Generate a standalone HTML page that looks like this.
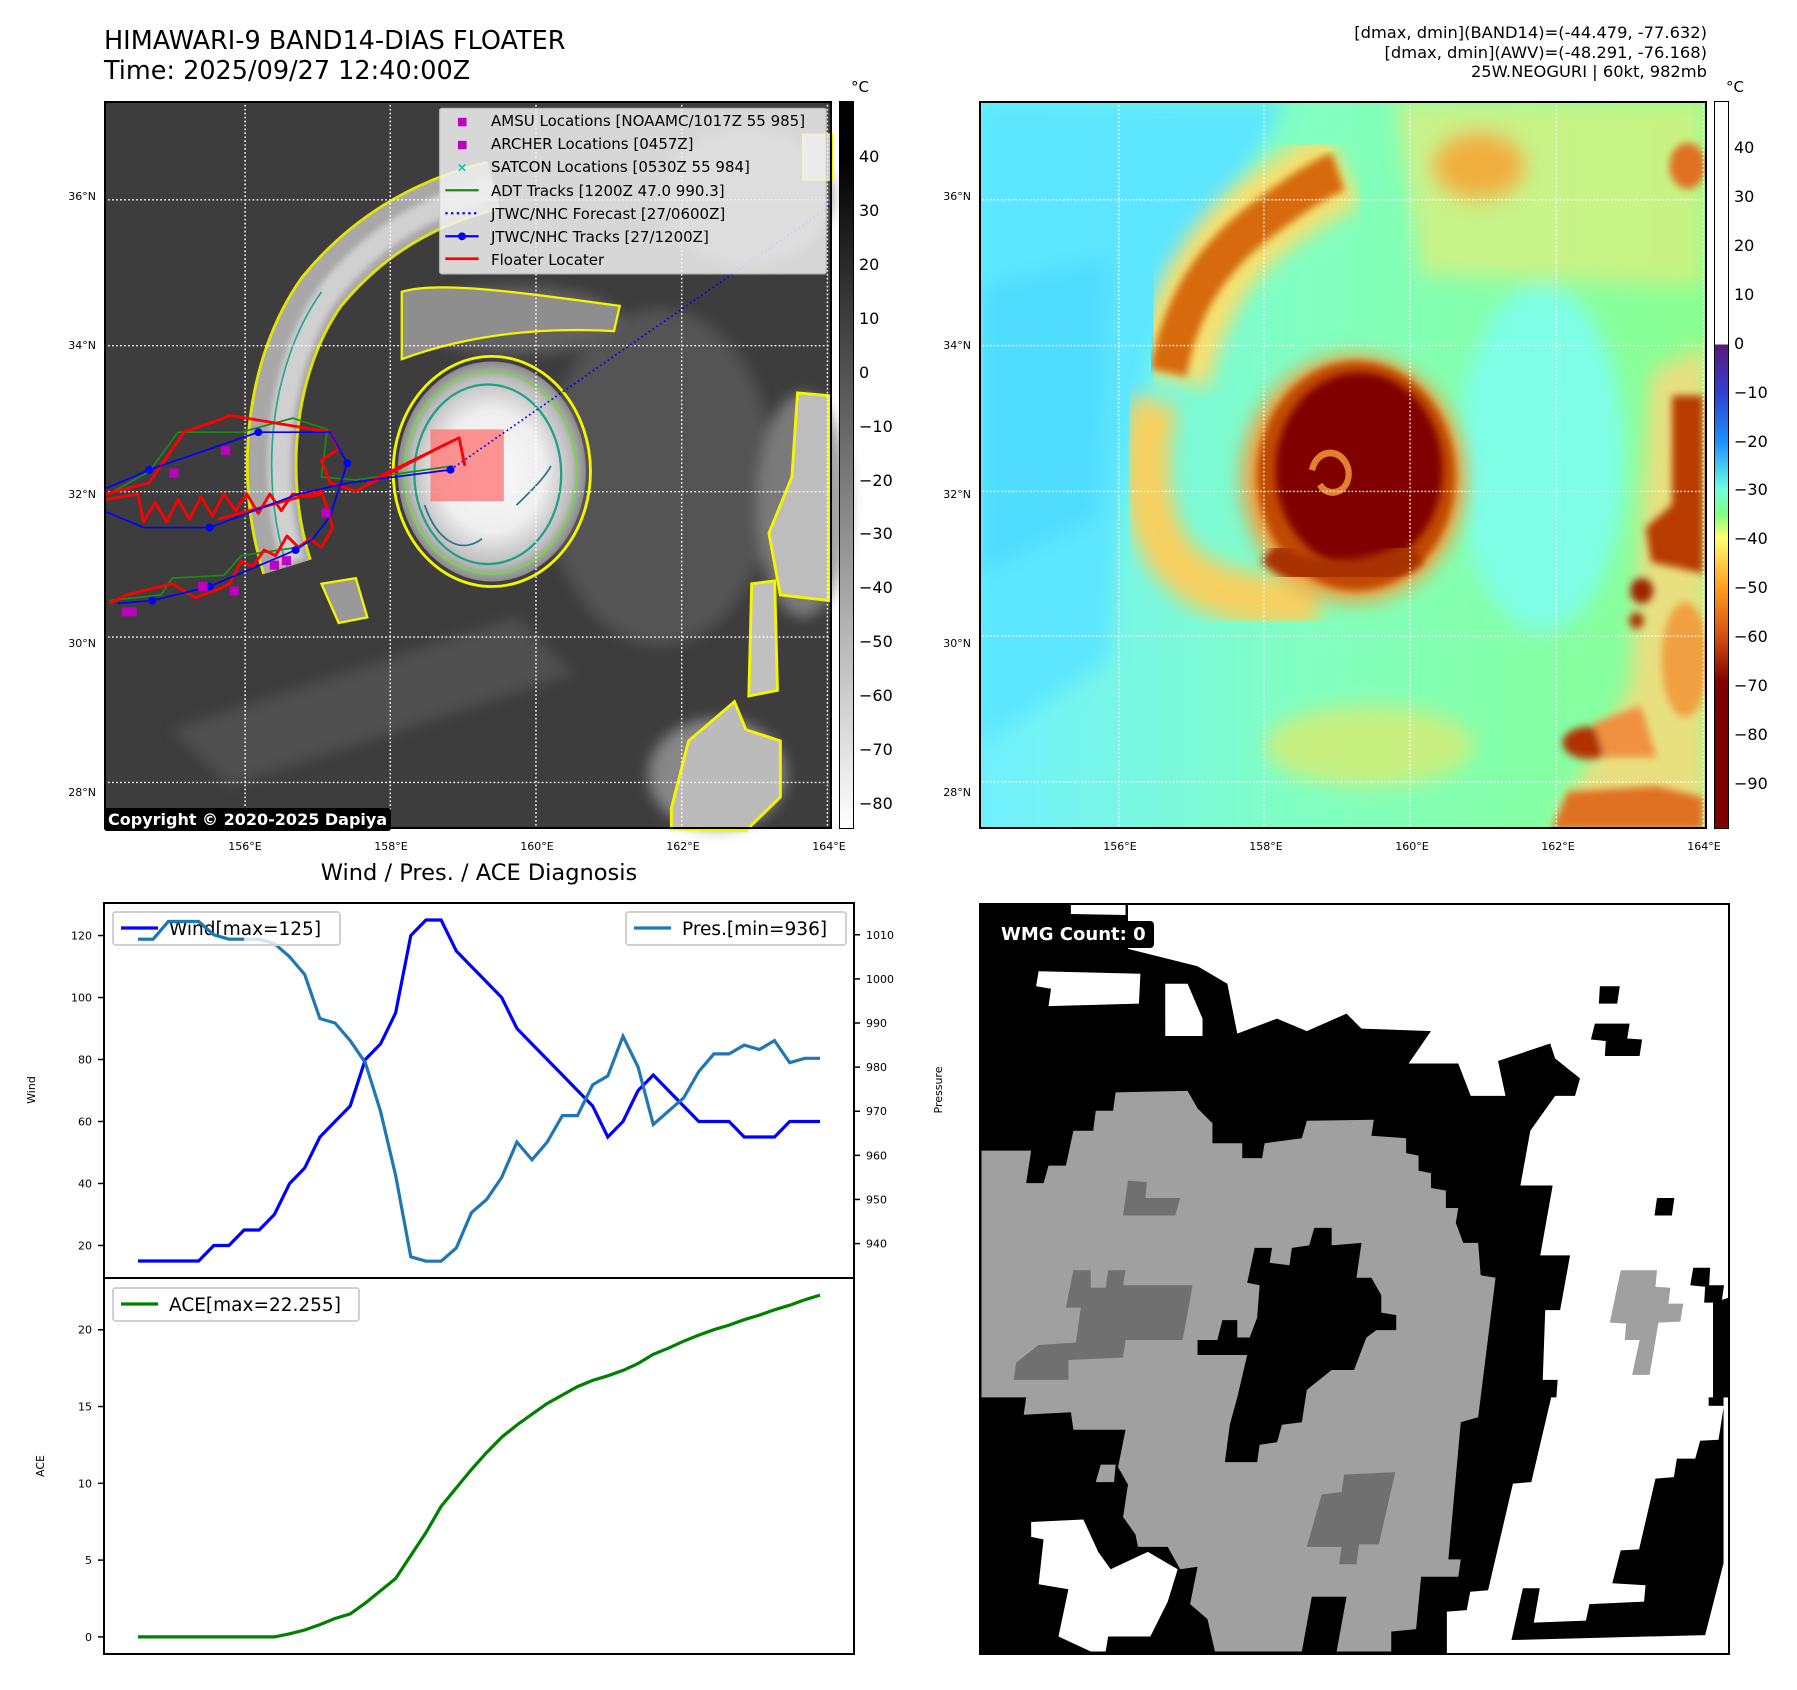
<!DOCTYPE html>
<html><head><meta charset="utf-8">
<style>
html,body{margin:0;padding:0;background:#fff;}
body{width:1797px;height:1690px;position:relative;overflow:hidden;font-family:"DejaVu Sans","Liberation Sans",sans-serif;color:#000;}
.abs{position:absolute;}
.t{position:absolute;white-space:nowrap;}
svg{position:absolute;overflow:visible;}
</style></head><body>

<div class="t" style="left:104px;top:26px;font-size:25.5px;line-height:30px;">HIMAWARI-9 BAND14-DIAS FLOATER<br>Time: 2025/09/27 12:40:00Z</div>
<div class="t" style="right:90px;top:23px;font-size:16.3px;line-height:19.5px;text-align:right;">[dmax, dmin](BAND14)=(-44.479, -77.632)<br>[dmax, dmin](AWV)=(-48.291, -76.168)<br>25W.NEOGURI | 60kt, 982mb</div>

<!-- MAP 1 -->
<svg style="left:104px;top:101px" width="728" height="728" viewBox="181 180 1269 1297" preserveAspectRatio="none">
<defs>
<radialGradient id="core1" cx="0.5" cy="0.5" r="0.5"><stop offset="0" stop-color="#fafafa"/><stop offset="0.55" stop-color="#eeeeee"/><stop offset="0.85" stop-color="#bdbdbd"/><stop offset="1" stop-color="#8a8a8a"/></radialGradient>
<filter id="bl1"><feGaussianBlur stdDeviation="12"/></filter>
<filter id="bl2"><feGaussianBlur stdDeviation="5"/></filter>
</defs>
<rect x="181" y="180" width="1269" height="1297" fill="#3d3d3d"/>
<g filter="url(#bl1)" opacity="0.8">
<ellipse cx="1150" cy="850" rx="200" ry="300" fill="#5a5a5a"/>
<ellipse cx="1400" cy="900" rx="80" ry="200" fill="#8a8a8a"/>
<ellipse cx="1250" cy="1380" rx="120" ry="100" fill="#9a9a9a"/>
<ellipse cx="900" cy="570" rx="180" ry="60" fill="#6a6a6a"/>
<ellipse cx="1300" cy="350" rx="150" ry="120" fill="#777"/>
<path d="M300 1300 L900 1100 L1000 1200 L400 1400Z" fill="#555"/>
</g>
<path d="M500 1010 C450 850 470 650 560 520 C640 420 740 360 860 330" stroke="#f5f500" stroke-width="90" fill="none" opacity="0.9"/>
<path d="M500 1010 C450 850 470 650 560 520 C640 420 740 360 860 330" stroke="#a8a8a8" stroke-width="80" fill="none"/>
<path d="M510 1000 C465 850 485 650 570 525 C645 425 745 365 860 335" stroke="#d0d0d0" stroke-width="40" fill="none" filter="url(#bl2)"/>
<path d="M500 1010 C450 850 470 650 560 520" stroke="#2aa890" stroke-width="3" fill="none"/>
<ellipse cx="857" cy="840" rx="172" ry="205" fill="none" stroke="#f5f500" stroke-width="5"/>
<ellipse cx="857" cy="840" rx="164" ry="196" fill="url(#core1)"/>
<ellipse cx="855" cy="842" rx="150" ry="180" fill="none" stroke="#7ccf55" stroke-width="4"/>
<ellipse cx="850" cy="845" rx="128" ry="160" fill="none" stroke="#22a085" stroke-width="4"/>
<path d="M740 900 C760 960 800 990 840 960 M900 900 C930 870 950 850 960 830" stroke="#2b6f8e" stroke-width="3" fill="none"/>
<path d="M1390 700 L1445 705 L1445 1070 L1360 1060 L1340 950 L1380 850Z" fill="#bdbdbd" stroke="#f5f500" stroke-width="5"/>
<path d="M1310 1040 L1350 1035 L1355 1230 L1305 1240Z" fill="#c0c0c0" stroke="#f5f500" stroke-width="5"/>
<path d="M1170 1440 L1200 1320 L1280 1250 L1300 1300 L1360 1320 L1360 1420 L1300 1480 L1170 1477Z" fill="#bbbbbb" stroke="#f5f500" stroke-width="5"/>
<path d="M1400 240 L1450 240 L1450 320 L1400 320Z" fill="#c5c5c5" stroke="#f5f500" stroke-width="4"/>
<path d="M700 520 C760 500 900 520 1080 545 L1070 590 C900 580 780 610 700 640Z" fill="#8e8e8e" stroke="#f5f500" stroke-width="4"/>
<path d="M560 1040 L620 1030 L640 1100 L590 1110Z" fill="#999" stroke="#f5f500" stroke-width="4"/>
<g stroke="#fff" stroke-width="2.5" stroke-dasharray="3,4">
<line x1="427" y1="180" x2="427" y2="1477"/><line x1="680" y1="180" x2="680" y2="1477"/><line x1="934" y1="180" x2="934" y2="1477"/><line x1="1188" y1="180" x2="1188" y2="1477"/><line x1="1442" y1="180" x2="1442" y2="1477"/>
<line x1="181" y1="356" x2="1450" y2="356"/><line x1="181" y1="616" x2="1450" y2="616"/><line x1="181" y1="876" x2="1450" y2="876"/><line x1="181" y1="1135" x2="1450" y2="1135"/><line x1="181" y1="1394" x2="1450" y2="1394"/>
</g>
<rect x="750" y="765" width="128" height="128" fill="#ff7070" opacity="0.75"/>
<polyline points="785,837 1450,365" stroke="#0000ff" stroke-width="3" stroke-dasharray="3,5" fill="none"/>
<g stroke="#1a8a1a" stroke-width="3" fill="none">
<polyline points="190,880 260,840 310,770 420,770 510,745 570,765 560,850 620,855 790,830"/>
<polyline points="190,1070 280,1060 300,1030 390,1025 420,990 520,975"/>
</g>
<g stroke="#ff0000" stroke-width="5" fill="none" stroke-linejoin="round">
<polyline points="185,880 260,860 320,770 390,745 400,740 575,770 590,800 560,820 575,860 620,875 760,800 800,780 810,830"/>
<polyline points="185,890 240,880 250,930 270,895 290,930 310,890 330,925 350,885 370,920 390,880 410,910 430,880 450,915 470,880 490,910 510,880 540,885 560,880"/>
<polyline points="380,925 560,875 580,940 560,975 540,960 520,975 500,955 480,990 460,980 440,1010 420,1000 400,1040 380,1050 340,1065 300,1040 260,1050 220,1060 190,1075"/>
<polyline points="640,860 660,850 680,840 700,830 720,820 740,810 760,800 780,790"/>
</g>
<g stroke="#0000ff" stroke-width="3" fill="none">
<polyline points="185,912 250,940 365,940 520,880 610,860 785,837"/>
<polyline points="205,1075 265,1070 365,1045 515,980 545,960 575,920 605,825 575,770 450,770 260,837 185,870"/>
</g>
<g fill="#0000ff"><circle cx="365" cy="940" r="7"/><circle cx="785" cy="837" r="7"/><circle cx="265" cy="1070" r="7"/><circle cx="365" cy="1045" r="7"/><circle cx="515" cy="980" r="7"/><circle cx="605" cy="825" r="7"/><circle cx="450" cy="770" r="7"/><circle cx="260" cy="837" r="7"/></g>
<g fill="#c000c0"><rect x="385" y="795" width="16" height="16"/><rect x="295" y="835" width="16" height="16"/><rect x="560" y="906" width="16" height="16"/><rect x="470" y="999" width="16" height="16"/><rect x="491" y="991" width="16" height="16"/><rect x="212" y="1082" width="26" height="16"/><rect x="345" y="1037" width="16" height="16"/><rect x="400" y="1045" width="16" height="16"/></g>
<rect x="766" y="193" width="674" height="295" fill="#f2f2f2" opacity="0.85" stroke="#ccc" stroke-width="2" rx="4"/>
<rect x="798" y="210" width="15" height="15" fill="#c000c0"/>
<rect x="798" y="251" width="15" height="15" fill="#c000c0"/>
<text x="796" y="306" fill="#00bcbc" font-size="22" font-weight="bold">×</text>
<line x1="776" y1="339" x2="834" y2="339" stroke="#1a8a1a" stroke-width="4"/>
<line x1="776" y1="380" x2="834" y2="380" stroke="#0000ff" stroke-width="4" stroke-dasharray="4,6"/>
<line x1="776" y1="421" x2="834" y2="421" stroke="#0000ff" stroke-width="4"/><circle cx="805" cy="421" r="7" fill="#0000ff"/>
<line x1="776" y1="461" x2="834" y2="461" stroke="#ff0000" stroke-width="5"/>
</svg>
<div class="abs" style="left:491px;top:110px;font-size:15px;line-height:23.2px;">
<div>AMSU Locations [NOAAMC/1017Z 55 985]</div>
<div>ARCHER Locations [0457Z]</div>
<div>SATCON Locations [0530Z 55 984]</div>
<div>ADT Tracks [1200Z 47.0 990.3]</div>
<div>JTWC/NHC Forecast [27/0600Z]</div>
<div>JTWC/NHC Tracks [27/1200Z]</div>
<div>Floater Locater</div>
</div>
<div class="abs" style="left:104px;top:101px;width:724px;height:724px;border:2px solid #000;"></div>
<div class="t" style="left:104px;top:808px;background:#000;color:#fff;font-weight:bold;font-size:16px;padding:2px 4px;border-radius:3px;">Copyright © 2020-2025 Dapiya</div>

<div class="abs" style="left:839px;top:101px;width:13px;height:726px;border:1px solid #000;background:linear-gradient(#000 0%,#000 7.5%,#fff 100%);"></div>
<div class="t" style="left:851px;top:78px;font-size:15px;">°C</div>

<!-- MAP 2 -->
<svg style="left:979px;top:101px" width="728" height="728" viewBox="2 177 1395 1268" preserveAspectRatio="none">
<defs>
<filter id="b2"><feGaussianBlur stdDeviation="18"/></filter>
<filter id="b3"><feGaussianBlur stdDeviation="7"/></filter>
<linearGradient id="bg2" x1="0" x2="1" y1="0" y2="0"><stop offset="0" stop-color="#70f0ff"/><stop offset="0.45" stop-color="#80ffc0"/><stop offset="1" stop-color="#88ff90"/></linearGradient>
<clipPath id="c2"><rect x="2" y="177" width="1395" height="1268"/></clipPath>
</defs>
<g clip-path="url(#c2)">
<rect x="2" y="177" width="1395" height="1268" fill="url(#bg2)"/>
<g filter="url(#b2)">
<path d="M2 177 L590 177 L420 450 L330 620 L270 900 L250 1150 L2 1300Z" fill="#5ce6ff"/>
<path d="M2 500 L250 450 L230 900 L2 1000Z" fill="#50dcff"/>
<ellipse cx="1080" cy="800" rx="160" ry="300" fill="#7fffe6"/>
<path d="M800 177 L1390 177 L1390 500 L850 480Z" fill="#d8f080" opacity="0.8"/>
<ellipse cx="960" cy="290" rx="90" ry="60" fill="#f0b040"/>
<ellipse cx="750" cy="1300" rx="200" ry="70" fill="#c8f080"/>
<path d="M1290 650 L1397 600 L1397 1445 L1100 1445 L1250 1200Z" fill="#e8e080"/>
</g>
<path d="M370 660 C400 520 470 430 560 370 C620 330 660 310 700 290" stroke="#f6e070" stroke-width="150" fill="none" filter="url(#b2)"/>
<path d="M365 650 C390 520 460 440 550 380 C610 340 650 315 690 300" stroke="#d66a10" stroke-width="70" fill="none" filter="url(#b3)"/>
<path d="M340 700 C310 800 320 920 380 980 C440 1040 560 1060 650 1040" stroke="#f6d060" stroke-width="90" fill="none" filter="url(#b2)"/>
<ellipse cx="720" cy="835" rx="215" ry="215" fill="#f0a040" filter="url(#b2)"/>
<ellipse cx="725" cy="830" rx="190" ry="200" fill="#c04a00" filter="url(#b3)"/>
<ellipse cx="730" cy="820" rx="160" ry="170" fill="#800000" filter="url(#b3)"/>
<path d="M560 960 C620 1020 760 1010 840 960" stroke="#a83000" stroke-width="50" fill="none" filter="url(#b3)"/>
<path d="M640 820 C650 780 700 780 710 820 C715 860 670 870 655 845" stroke="#e08030" stroke-width="12" fill="none"/>
<g filter="url(#b3)">
<path d="M1330 690 L1390 690 L1390 1000 L1290 980 L1280 920 L1330 880Z" fill="#b83a00"/>
<circle cx="1272" cy="1030" r="22" fill="#a02000"/>
<circle cx="1262" cy="1082" r="14" fill="#b03000"/>
<ellipse cx="1170" cy="1295" rx="50" ry="28" fill="#b03000"/>
<path d="M1180 1260 L1270 1230 L1300 1320 L1200 1320Z" fill="#f09040"/>
<path d="M1100 1445 L1130 1380 L1300 1370 L1390 1390 L1390 1445Z" fill="#e07020"/>
<ellipse cx="1360" cy="290" rx="35" ry="40" fill="#e07020"/>
<ellipse cx="1355" cy="1150" rx="45" ry="100" fill="#f0a040"/>
</g>
<g stroke="#fff" stroke-width="2.5" stroke-dasharray="3,4">
<line x1="270" y1="177" x2="270" y2="1445"/><line x1="548" y1="177" x2="548" y2="1445"/><line x1="828" y1="177" x2="828" y2="1445"/><line x1="1108" y1="177" x2="1108" y2="1445"/><line x1="1390" y1="177" x2="1390" y2="1445"/>
<line x1="2" y1="349" x2="1397" y2="349"/><line x1="2" y1="603" x2="1397" y2="603"/><line x1="2" y1="857" x2="1397" y2="857"/><line x1="2" y1="1109" x2="1397" y2="1109"/><line x1="2" y1="1363" x2="1397" y2="1363"/>
</g>
</g>
</svg>
<div class="abs" style="left:979px;top:101px;width:724px;height:724px;border:2px solid #000;"></div>
<div class="abs" style="left:1714px;top:101px;width:13px;height:726px;border:1px solid #000;background:linear-gradient(#fff 0%,#fff 33.4%,#5a1a7a 33.4%,#3040d0 40%,#1a90ff 46.7%,#70ffe0 53.4%,#80ff80 56.8%,#ffff70 60%,#ffa020 66.7%,#d85010 73.4%,#800000 80%,#800000 100%);"></div>
<div class="t" style="left:1726px;top:78px;font-size:15px;">°C</div>
<div id="maplabels"></div>

<div class="t" style="left:479px;top:860px;transform:translateX(-50%);font-size:22.5px;">Wind / Pres. / ACE Diagnosis</div>
<svg id="chart" style="left:0;top:0" width="1797" height="1690"></svg>

<!-- WMG panel -->
<svg style="left:979px;top:903px" width="750" height="751" viewBox="0 8 1510 1507" preserveAspectRatio="none">
<rect x="0" y="8" width="1510" height="1507" fill="#000"/>
<polygon fill="#fff" points="300,8 1510,8 1510,800 1478,810 1478,1020 1505,1035 1500,1090 1440,1140 1365,1170 1350,1315 1300,1315 1290,1385 1240,1390 1230,1420 1125,1455 1130,1390 1080,1390 1115,1175 1150,1175 1165,965 1135,965 1140,825 1170,825 1190,715 1130,715 1155,575 1090,575 1110,465 1160,395 1200,395 1210,360 1160,320 1150,290 1045,325 1060,395 990,395 965,330 865,330 910,265 770,260 740,230 660,265 600,240 520,270 500,170 440,135 300,100"/>
<polygon fill="#fff" points="1152,1000 1112,1170 1075,1173 1025,1387 989,1390 982,1427 942,1430 942,1515 1510,1515 1510,1000"/>
<polygon fill="#000" points="1072,1487 1095,1383 1129,1383 1117,1452 1222,1448 1229,1415 1339,1410 1342,1377 1275,1373 1292,1307 1329,1305 1362,1163 1399,1160 1405,1123 1442,1123 1452,1087 1489,1085 1499,1020 1499,1333 1462,1477"/>
<polygon fill="#000" points="1469,1000 1499,1000 1499,1017 1469,1017"/>
<polygon fill="#000" points="1250,175 1290,175 1285,210 1248,210"/>
<polygon fill="#000" points="1240,250 1310,250 1305,280 1335,282 1330,315 1260,315 1262,285 1232,282"/>
<polygon fill="#000" points="1365,600 1400,600 1395,635 1360,635"/>
<polygon fill="#000" points="1438,740 1472,740 1470,775 1500,775 1495,810 1460,810 1462,778 1432,775"/>
<polygon fill="#000" points="1478,810 1510,810 1510,1000 1478,1000"/>
<polygon fill="#a0a0a0" points="1292,745 1365,745 1362,778 1392,780 1388,812 1418,812 1412,848 1368,850 1350,955 1315,955 1330,885 1300,885 1303,852 1270,850"/>
<polygon fill="#fff" points="120,145 325,150 322,210 140,215 145,180 115,175"/>
<polygon fill="#fff" points="185,12 295,12 295,32 185,30"/>
<polygon fill="#fff" points="375,170 420,170 450,240 450,275 375,275"/>
<polygon fill="#fff" points="105,1250 210,1245 240,1310 265,1345 340,1310 400,1345 380,1410 345,1480 260,1480 255,1510 225,1510 160,1480 180,1385 120,1375 130,1285 105,1280"/>
<polygon fill="#a0a0a0" points="5,505 105,505 95,570 130,570 140,535 175,535 190,465 230,465 235,425 270,425 275,388 420,385 440,420 470,450 470,490 530,490 530,520 570,520 575,490 650,480 660,445 795,443 790,475 860,480 860,510 885,515 885,545 910,550 910,580 940,585 940,620 965,620 960,650 975,690 1005,690 1010,755 1040,760 1005,1040 970,1050 945,1325 970,1325 965,1360 890,1360 880,1465 830,1470 830,1510 720,1510 740,1400 670,1400 650,1510 475,1510 460,1445 425,1415 440,1340 405,1345 380,1300 320,1300 315,1275 290,1240 300,1175 280,1140 295,1065 190,1065 185,1030 90,1035 95,1000 5,1000"/>
<polygon fill="#000" points="555,700 590,700 585,730 625,735 630,700 665,695 675,660 710,660 710,695 770,690 760,760 790,760 810,795 810,830 840,835 840,865 800,865 780,880 755,945 710,945 660,985 650,1050 610,1055 600,1090 565,1095 560,1130 495,1130 505,1055 520,1000 540,915 440,915 440,885 480,885 490,845 520,845 520,880 545,880 560,840 565,775 540,770"/>
<polygon fill="#707070" points="300,565 338,568 335,600 405,600 395,635 290,635"/>
<polygon fill="#707070" points="190,745 225,745 225,780 255,780 260,745 295,745 290,775 430,775 410,885 295,885 290,920 180,925 180,965 70,965 75,930 120,895 195,890 205,820 175,820"/>
<polygon fill="#707070" points="735,1155 838,1150 805,1295 765,1295 760,1335 725,1335 730,1300 660,1300 690,1195 730,1190"/>
<polygon fill="#a0a0a0" points="245,1135 275,1135 272,1170 235,1170"/>
</svg>
<div class="abs" style="left:979px;top:903px;width:751px;height:752px;border:2px solid #000;box-sizing:border-box;"></div>
<div class="t" style="left:993px;top:921px;background:#000;color:#fff;font-weight:bold;font-size:18px;padding:3px 8px;border-radius:4px;">WMG Count: 0</div>

<script>
const windValues = [15,15,15,15,15,20,20,25,25,30,40,45,55,60,65,80,85,95,120,125,125,115,110,105,100,90,85,80,75,70,65,55,60,70,75,70,65,60,60,60,55,55,55,60,60,60];
const presValues = [1009,1009,1013,1013,1013,1010,1009,1009,1009,1008,1005,1001,991,990,986,981,970,955.5,937,936,936,939,947,950,955,963,959,963,969,969,976,978,987,980,967,970,973,979,983,983,985,984,986,981,982,982];
const aceValues = [0,0,0,0,0,0,0,0,0,0,0.2,0.45,0.8,1.2,1.5,2.2,3.0,3.8,5.3,6.8,8.5,9.7,10.9,12.0,13.0,13.8,14.5,15.2,15.75,16.3,16.7,17.0,17.35,17.8,18.4,18.8,19.25,19.65,20.0,20.3,20.65,20.95,21.3,21.6,21.95,22.255];
const windTicks = [20,40,60,80,100,120];
const presTicks = [940,950,960,970,980,990,1000,1010];
const aceTicks = [0,5,10,15,20];
const lonTicks = ["156°E","158°E","160°E","162°E","164°E"];
const latTicks = ["28°N","30°N","32°N","34°N","36°N"];
const cb1Ticks = [40,30,20,10,0,-10,-20,-30,-40,-50,-60,-70,-80];
const cb2Ticks = [40,30,20,10,0,-10,-20,-30,-40,-50,-60,-70,-80,-90];

const NS='http://www.w3.org/2000/svg';
const svg=document.getElementById('chart');
const X0=104,X1=854,T1=903,M=1278,B=1654;
const n=windValues.length;
function xS(i){return 138+(820-138)*i/(n-1);}
function yWind(v){return M-(v-9.5)/(130.5-9.5)*(M-T1);}
function yPres(v){return M-(v-932.2)/(1017.2-932.2)*(M-T1);}
function yAce(v){return B-(v+1.113)/(23.368+1.113)*(B-M);}
function el(t,a){const e=document.createElementNS(NS,t);for(const k in a)e.setAttribute(k,a[k]);svg.appendChild(e);return e;}
function txt(x,y,s,anchor,size,rot){const e=el('text',{x:x,y:y,'font-size':size||11,'text-anchor':anchor||'end','font-family':'DejaVu Sans, Liberation Sans, sans-serif'});if(rot)e.setAttribute('transform','rotate(-90 '+x+' '+y+')');e.textContent=s;return e;}

let f=el('rect',{x:X0,y:T1,width:X1-X0,height:M-T1,fill:'none',stroke:'#000','stroke-width':2});


f=el('rect',{x:X0,y:M,width:X1-X0,height:B-M,fill:'none',stroke:'#000','stroke-width':2});



windTicks.forEach(v=>{const y=yWind(v);el('line',{x1:X0-6,x2:X0,y1:y,y2:y,stroke:'#000','stroke-width':1.5});const t=txt(X0-12,y+4,String(v));});
presTicks.forEach(v=>{const y=yPres(v);el('line',{x1:X1,x2:X1+6,y1:y,y2:y,stroke:'#000','stroke-width':1.5});const t=txt(X1+12,y+4,String(v),'start');});
aceTicks.forEach(v=>{const y=yAce(v);el('line',{x1:X0-6,x2:X0,y1:y,y2:y,stroke:'#000','stroke-width':1.5});const t=txt(X0-12,y+4,String(v));});
let yl=txt(35,1090,'Wind','middle',11,true);


yl=txt(942,1090,'Pressure','middle',11,true);


yl=txt(44,1466,'ACE','middle',11,true);



function line(vals,yf,color,name){const p=vals.map((v,i)=>xS(i).toFixed(1)+','+yf(v).toFixed(1)).join(' ');const e=el('polyline',{points:p,fill:'none',stroke:color,'stroke-width':3.2});return e;}
line(windValues,yWind,'#0000ff','wind-line');
line(presValues,yPres,'#1f77b4','pressure-line');
line(aceValues,yAce,'#008000','ace-line');

function legend(x,y,w,color,label,name){const g=el('rect',{x:x,y:y,width:w,height:33,fill:'#fff','fill-opacity':0.8,stroke:'#d0d0d0','stroke-width':2,rx:3});el('line',{x1:x+8,x2:x+45,y1:y+16,y2:y+16,stroke:color,'stroke-width':3.2});txt(x+56,y+23,label,'start',18.5);}
legend(113,912,227,'#0000ff','Wind[max=125]','wind-legend');
legend(626,912,220,'#1f77b4','Pres.[min=936]','pressure-legend');
legend(113,1288,246,'#008000','ACE[max=22.255]','ace-legend');
line(presValues.slice(0,8),yPres,'#1f77b4','pressure-line-overlay');

const lab=document.getElementById('maplabels');
function div(x,y,s,size,align,name){const d=document.createElement('div');d.className='t';d.textContent=s;d.style.fontSize=size+'px';d.style.top=y+'px';if(align==='right'){d.style.right=(1797-x)+'px';}else if(align==='center'){d.style.left=x+'px';d.style.transform='translateX(-50%)';}else d.style.left=x+'px';lab.appendChild(d);return d;}
const lonX1=[245,391,537,683,829], lonX2=[1120,1266,1412,1558,1704];
lonTicks.forEach((s,i)=>{div(lonX1[i],840,s,11,'center','lon-label');div(lonX2[i],840,s,11,'center','lon-label');});
const latY=[786,637,488,339,190];
latTicks.forEach((s,i)=>{div(96,latY[i],s,11,'right','lat-label');div(971,latY[i],s,11,'right','lat-label');});
function cbY1(v){return 101+(50.2-v)/(50.2+84.8)*728;}
function cbY2(v){return 101+(49.3-v)/(49.3+99.3)*728;}
cb1Ticks.forEach(v=>{div(859,cbY1(v)-9,(v<0?'−':'')+Math.abs(v),16,'left','ir-colorbar-tick');});
cb2Ticks.forEach(v=>{div(1734,cbY2(v)-9,(v<0?'−':'')+Math.abs(v),16,'left','awv-colorbar-tick');});
</script>
</body></html>
